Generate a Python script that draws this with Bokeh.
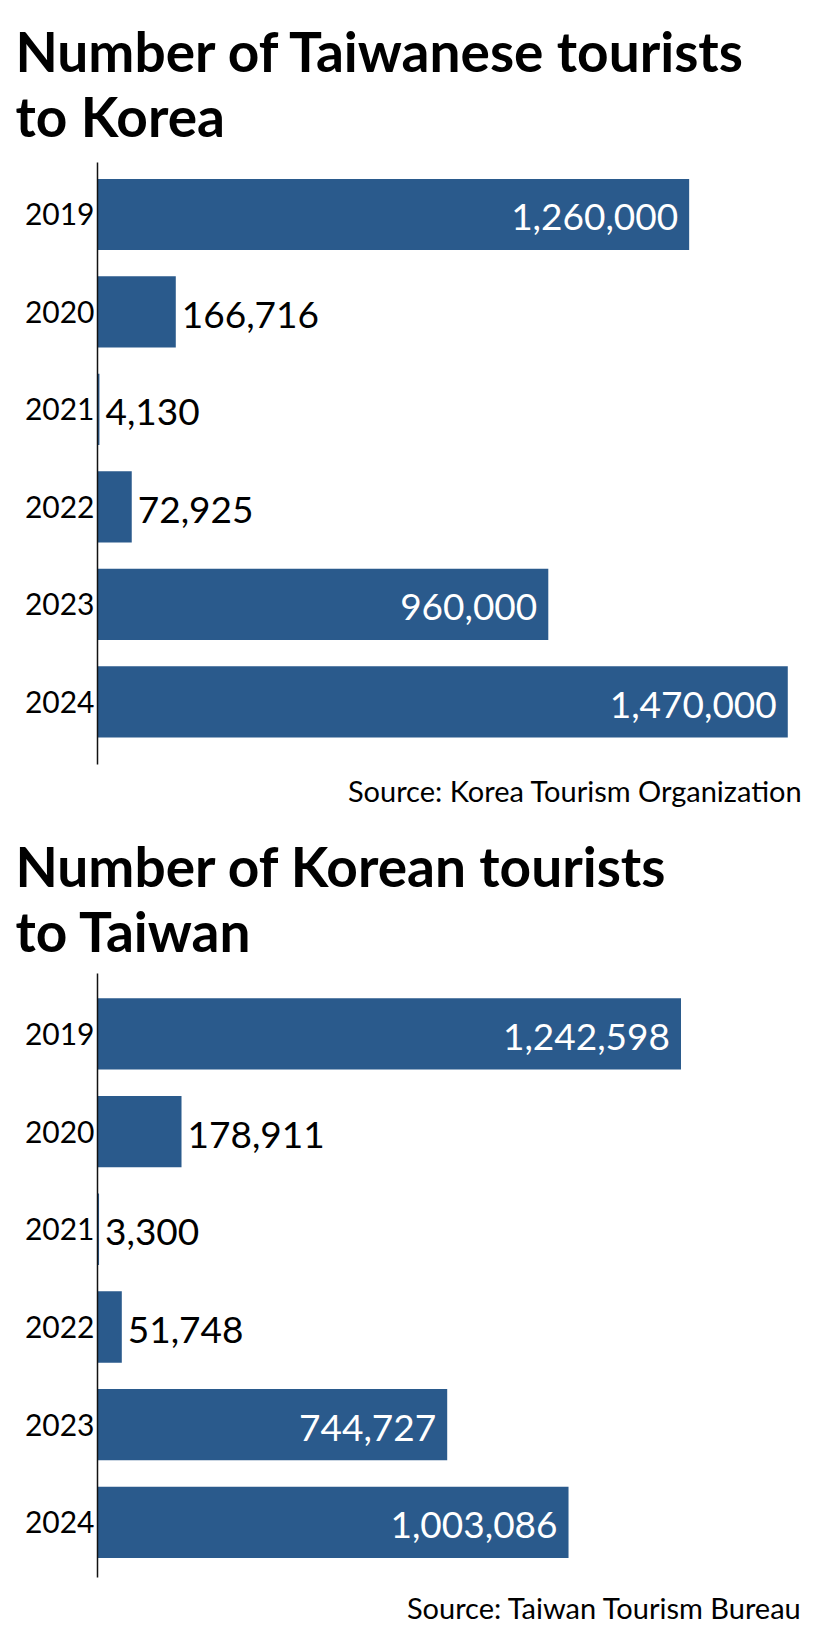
from bokeh.plotting import figure
from bokeh.models import Range1d, FixedTicker, Title, ColumnDataSource
from bokeh.layouts import column
from bokeh.embed import file_html
from bokeh.resources import INLINE
from bokeh.core.properties import value

# ---- data ----
years = ["2019", "2020", "2021", "2022", "2023", "2024"]
taiwanese_to_korea = [1260000, 166716, 4130, 72925, 960000, 1470000]
korean_to_taiwan = [1242598, 178911, 3300, 51748, 744727, 1003086]
title_top = ["Number of Taiwanese tourists", "to Korea"]
title_bottom = ["Number of Korean tourists", "to Taiwan"]
source_top = "Source: Korea Tourism Organization"
source_bottom = "Source: Taiwan Tourism Bureau"

BAR = "#2A5A8C"
FONT = "Lato"
X_MAX = 1512000
INSIDE_MIN = 500000


def chart(lines, vals, src, height, border_top, border_bottom, pad_top, pad_bottom,
          s_line1, s_line2, s_src):
    idx = list(range(len(years)))
    p = figure(width=823, height=height,
               x_range=Range1d(0, X_MAX),
               y_range=Range1d(len(years) - 1 + pad_bottom, -pad_top),
               output_backend="svg", toolbar_location=None,
               x_axis_location=None, title=None,
               min_border_left=97, min_border_right=16,
               min_border_top=border_top, min_border_bottom=border_bottom)
    p.grid.visible = False
    p.outline_line_color = None
    p.background_fill_color = "white"

    p.hbar(y=idx, left=0, right=vals, height=0.73, fill_color=BAR, line_color=None)

    ins = [v >= INSIDE_MIN for v in vals]
    s_in = ColumnDataSource(dict(
        x=[v for v, f in zip(vals, ins) if f],
        y=[i for i, f in zip(idx, ins) if f],
        t=[f"{v:,}" for v, f in zip(vals, ins) if f]))
    s_out = ColumnDataSource(dict(
        x=[v for v, f in zip(vals, ins) if not f],
        y=[i for i, f in zip(idx, ins) if not f],
        t=[f"{v:,}" for v, f in zip(vals, ins) if not f]))
    p.text(x="x", y="y", text="t", source=s_in, text_align="right",
           text_baseline="middle", text_color="white", x_offset=-11, y_offset=3,
           text_font=value(FONT), text_font_size="37px")
    p.text(x="x", y="y", text="t", source=s_out, text_align="left",
           text_baseline="middle", text_color="black", x_offset=6, y_offset=3,
           text_font=value(FONT), text_font_size="37px")

    ax = p.yaxis[0]
    ax.ticker = FixedTicker(ticks=idx)
    ax.major_label_overrides = {i: y for i, y in zip(idx, years)}
    ax.major_tick_out = 0
    ax.major_tick_in = 0
    ax.minor_tick_out = 0
    ax.minor_tick_in = 0
    ax.axis_line_color = "#111111"
    ax.axis_line_width = 1.5
    ax.major_label_standoff = 3
    ax.major_label_text_font = FONT
    ax.major_label_text_font_size = "30px"
    ax.major_label_text_color = "black"

    p.add_layout(Title(text=lines[1], align="left", offset=-82, standoff=s_line2,
                       text_font=FONT, text_font_size="55px", text_font_style="bold",
                       text_color="black"), "above")
    p.add_layout(Title(text=lines[0], align="left", offset=-82, standoff=s_line1,
                       text_font=FONT, text_font_size="55px", text_font_style="bold",
                       text_color="black"), "above")
    p.add_layout(Title(text=src, align="right", offset=5, standoff=s_src,
                       text_font=FONT, text_font_size="29px", text_font_style="normal",
                       text_color="black"), "below")
    return p


p1 = chart(title_top, taiwanese_to_korea, source_top, 815, 162, 51,
           0.533, 0.643, -32.6, 26.6, 14.2)
p2 = chart(title_bottom, korean_to_taiwan, source_bottom, 820, 158, 58,
           0.618, 0.564, -25.2, 19.2, 20.8)

layout = column(p1, p2, spacing=0)
open("out.html", "w").write(file_html(layout, INLINE))
